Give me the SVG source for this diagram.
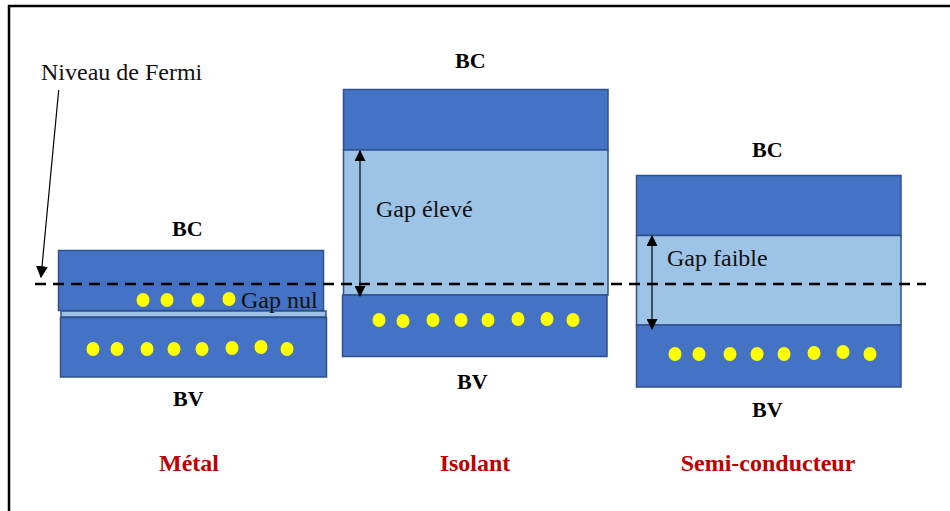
<svg xmlns="http://www.w3.org/2000/svg" width="950" height="511" viewBox="0 0 950 511">
<defs>
<style>
.band{fill:#4472C4;stroke:#2F528F;stroke-width:1.5}
.gap{fill:#9DC3E6;stroke:#2F528F;stroke-width:1.5}
.dot{fill:#FFFF00}
.lbl{font-family:"Liberation Serif","Times New Roman",serif;font-size:22px;font-weight:bold;fill:#000}
.txt{font-family:"Liberation Serif","Times New Roman",serif;font-size:24px;fill:#111}
.title{font-family:"Liberation Serif","Times New Roman",serif;font-size:24px;font-weight:bold;fill:#C00000;text-anchor:middle}
.arr{stroke:#000;stroke-width:1.2;fill:none}
</style>
<marker id="ah" viewBox="0 0 10 10" refX="9" refY="5" markerWidth="11" markerHeight="11" markerUnits="userSpaceOnUse" orient="auto-start-reverse">
<path d="M0,0 L10,5 L0,10 Z" fill="#000"/>
</marker>
<marker id="ah2" viewBox="0 0 10 10" refX="9" refY="5" markerWidth="12" markerHeight="12" markerUnits="userSpaceOnUse" orient="auto">
<path d="M0,0 L10,5 L0,10 Z" fill="#000"/>
</marker>
</defs>
<rect width="950" height="511" fill="#fff"/>
<g id="frame">
<line x1="8" y1="6" x2="950" y2="6" stroke="#000" stroke-width="2.5"/>
<line x1="9" y1="5" x2="9" y2="511" stroke="#000" stroke-width="2.5"/>
</g>
<g id="metal">
<rect class="band" x="58.5" y="250.5" width="265" height="60"/>
<rect class="gap" x="61" y="311" width="265" height="6"/>
<rect class="band" x="60.5" y="317.5" width="266" height="59.5"/>
<ellipse class="dot" cx="143" cy="300" rx="6.5" ry="7"/>
<ellipse class="dot" cx="167" cy="300" rx="6.5" ry="7"/>
<ellipse class="dot" cx="198" cy="300" rx="6.5" ry="7"/>
<ellipse class="dot" cx="229" cy="299" rx="6.5" ry="7"/>
<ellipse class="dot" cx="93" cy="349" rx="6.5" ry="7"/>
<ellipse class="dot" cx="117" cy="349" rx="6.5" ry="7"/>
<ellipse class="dot" cx="147" cy="349" rx="6.5" ry="7"/>
<ellipse class="dot" cx="174" cy="349" rx="6.5" ry="7"/>
<ellipse class="dot" cx="202" cy="349" rx="6.5" ry="7"/>
<ellipse class="dot" cx="232" cy="348" rx="6.5" ry="7"/>
<ellipse class="dot" cx="261" cy="347" rx="6.5" ry="7"/>
<ellipse class="dot" cx="287" cy="349" rx="6.5" ry="7"/>
<text class="txt" x="241" y="308">Gap nul</text>
<text class="lbl" x="172" y="236">BC</text>
<text class="lbl" x="173" y="406">BV</text>
<text class="title" x="189" y="471">Métal</text>
</g>
<g id="isolant">
<rect class="band" x="343.5" y="89.5" width="264.5" height="60.5"/>
<rect class="gap" x="343.5" y="150" width="264.5" height="145"/>
<rect class="band" x="342.5" y="295" width="264.5" height="61.5"/>
<ellipse class="dot" cx="379" cy="320" rx="6.5" ry="7"/>
<ellipse class="dot" cx="403" cy="321" rx="6.5" ry="7"/>
<ellipse class="dot" cx="433" cy="320" rx="6.5" ry="7"/>
<ellipse class="dot" cx="461" cy="320" rx="6.5" ry="7"/>
<ellipse class="dot" cx="488" cy="320" rx="6.5" ry="7"/>
<ellipse class="dot" cx="518" cy="319" rx="6.5" ry="7"/>
<ellipse class="dot" cx="547" cy="319" rx="6.5" ry="7"/>
<ellipse class="dot" cx="573" cy="320" rx="6.5" ry="7"/>
<text class="txt" x="376" y="217">Gap élevé</text>
<text class="lbl" x="455" y="68">BC</text>
<text class="lbl" x="457" y="389">BV</text>
<text class="title" x="475" y="471">Isolant</text>
</g>
<g id="semiconducteur">
<rect class="band" x="636.5" y="175.5" width="264.5" height="60"/>
<rect class="gap" x="636.5" y="235.5" width="264.5" height="89.5"/>
<rect class="band" x="636.5" y="325" width="264.5" height="62"/>
<ellipse class="dot" cx="675" cy="354" rx="6.5" ry="7"/>
<ellipse class="dot" cx="699" cy="354" rx="6.5" ry="7"/>
<ellipse class="dot" cx="730" cy="354" rx="6.5" ry="7"/>
<ellipse class="dot" cx="757" cy="354" rx="6.5" ry="7"/>
<ellipse class="dot" cx="784" cy="354" rx="6.5" ry="7"/>
<ellipse class="dot" cx="814" cy="353" rx="6.5" ry="7"/>
<ellipse class="dot" cx="843" cy="352" rx="6.5" ry="7"/>
<ellipse class="dot" cx="870" cy="354" rx="6.5" ry="7"/>
<text class="txt" x="667" y="266">Gap faible</text>
<text class="lbl" x="752" y="157">BC</text>
<text class="lbl" x="752" y="417">BV</text>
<text class="title" x="768" y="471">Semi-conducteur</text>
</g>
<g id="fermi">
<text class="txt" x="41" y="80">Niveau de Fermi</text>
</g>
<g id="connectors">
<line x1="35" y1="284" x2="926" y2="284" stroke="#000" stroke-width="2.6" stroke-dasharray="11 7"/>
<line class="arr" x1="58.7" y1="90" x2="41" y2="277" marker-end="url(#ah2)"/>
<line class="arr" x1="360" y1="151" x2="360" y2="296" marker-start="url(#ah)" marker-end="url(#ah)"/>
<line class="arr" x1="652" y1="236" x2="652" y2="329" marker-start="url(#ah)" marker-end="url(#ah)"/>
</g>
</svg>
